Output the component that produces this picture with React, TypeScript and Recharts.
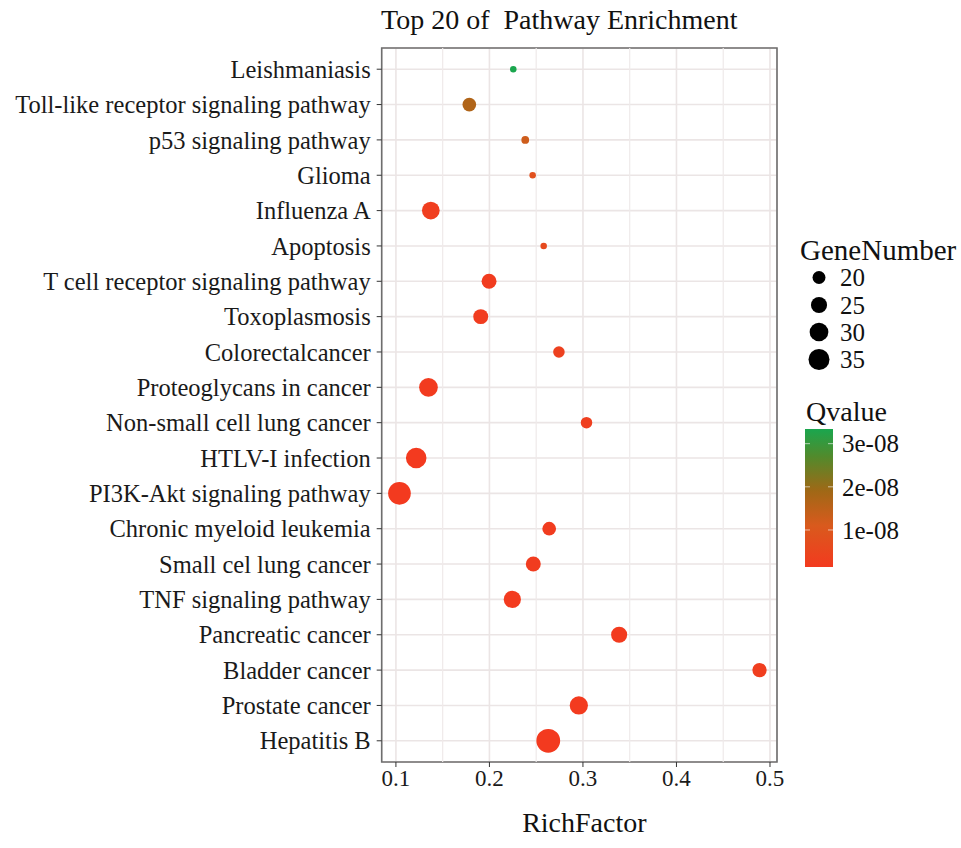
import React from 'react';
import { ScatterChart, Scatter, XAxis, YAxis, ZAxis, CartesianGrid, ReferenceLine, ReferenceArea, Cell, Label } from 'recharts';

// pathways listed top to bottom, as in the figure
const pathways = [
  'Leishmaniasis',
  'Toll-like receptor signaling pathway',
  'p53 signaling pathway',
  'Glioma',
  'Influenza A',
  'Apoptosis',
  'T cell receptor signaling pathway',
  'Toxoplasmosis',
  'Colorectalcancer',
  'Proteoglycans in cancer',
  'Non-small cell lung cancer',
  'HTLV-I infection',
  'PI3K-Akt signaling pathway',
  'Chronic myeloid leukemia',
  'Small cel lung cancer',
  'TNF signaling pathway',
  'Pancreatic cancer',
  'Bladder cancer',
  'Prostate cancer',
  'Hepatitis B',
];
const richFactor = [0.2255, 0.1785, 0.2383, 0.2462, 0.1373, 0.258, 0.1996, 0.1907, 0.2743, 0.1348, 0.3038, 0.1217, 0.1038, 0.2639, 0.2469, 0.2245, 0.3387, 0.4888, 0.2956, 0.2629];
const geneNumber = [13, 21, 14, 13, 28, 13, 23, 23, 18, 30, 18, 34, 39, 21, 23, 27, 25, 22, 29, 42];
const qValue = [3.34e-8, 1.68e-8, 1.25e-8, 0.8e-8, 0.25e-8, 0.62e-8, 0.2e-8, 0.2e-8, 0.35e-8, 0.18e-8, 0.3e-8, 0.15e-8, 0.15e-8, 0.2e-8, 0.2e-8, 0.16e-8, 0.17e-8, 0.25e-8, 0.16e-8, 0.15e-8];

const xTicks = [0.1, 0.2, 0.3, 0.4, 0.5];
const xMinor = [0.15, 0.25, 0.35, 0.45];
const sizeBreaks = [20, 25, 30, 35];
const qBreaks = [3e-8, 2e-8, 1e-8];

const X_DOMAIN = [0.0848, 0.5075];
const Y_DOMAIN = [0.4, 20.6];
const Q_MIN = 0.142e-8;
const Q_MAX = 3.34e-8;
const Z_DOMAIN = [13, 43];
const Z_RANGE = [33.2, 459.7];

const FONT = '"Liberation Serif", "Times New Roman", serif';

const stops: [number, string][] = [
  [0, '#f33a1f'],
  [0.3, '#d95a1d'],
  [0.55, '#a06816'],
  [0.8, '#528a2c'],
  [1, '#1aa64e'],
];

function hex(c: string) {
  return [1, 3, 5].map((i) => parseInt(c.slice(i, i + 2), 16));
}

function qColor(q: number) {
  const t = Math.max(0, Math.min(1, (q - Q_MIN) / (Q_MAX - Q_MIN)));
  for (let i = 1; i < stops.length; i++) {
    if (t <= stops[i][0]) {
      const [t0, c0] = stops[i - 1];
      const [t1, c1] = stops[i];
      const f = (t - t0) / (t1 - t0);
      const a = hex(c0), b = hex(c1);
      const rgb = a.map((v, k) => Math.round(v + (b[k] - v) * f));
      return `rgb(${rgb.join(',')})`;
    }
  }
  return stops[stops.length - 1][1];
}

// same area mapping as the ZAxis, for the legend dots
function dotRadius(n: number) {
  const area = Z_RANGE[0] + ((n - Z_DOMAIN[0]) / (Z_DOMAIN[1] - Z_DOMAIN[0])) * (Z_RANGE[1] - Z_RANGE[0]);
  return Math.sqrt(area / Math.PI);
}

const data = pathways.map((name, i) => ({
  name,
  x: richFactor[i],
  y: pathways.length - i,
  z: geneNumber[i],
  q: qValue[i],
}));

function LegendPanel() {
  const barTop = 429;
  const barBottom = 567;
  const qToY = (q: number) => barBottom - ((q - Q_MIN) / (Q_MAX - Q_MIN)) * (barBottom - barTop);
  const dotY = [277.5, 305, 332, 359.5];
  return (
    <svg width={961} height={848} style={{ position: 'absolute', left: 0, top: 0, pointerEvents: 'none' }}>
      <defs>
        <linearGradient id="qgrad" x1="0" y1="1" x2="0" y2="0">
          {stops.map(([t, c]) => (
            <stop key={t} offset={`${t * 100}%`} stopColor={c} />
          ))}
        </linearGradient>
      </defs>
      <text x={800} y={260} fontFamily={FONT} fontSize={29} fill="#111">GeneNumber</text>
      {sizeBreaks.map((n, i) => (
        <g key={n}>
          <circle cx={819} cy={dotY[i]} r={dotRadius(n)} fill="#000" />
          <text x={840} y={dotY[i]} dy="0.35em" fontFamily={FONT} fontSize={25} fill="#111">{n}</text>
        </g>
      ))}
      <text x={806} y={421} fontFamily={FONT} fontSize={28} fill="#111">Qvalue</text>
      <rect x={805} y={barTop} width={28} height={barBottom - barTop} fill="url(#qgrad)" />
      {qBreaks.map((q) => (
        <g key={q}>
          <line x1={805} x2={810} y1={qToY(q)} y2={qToY(q)} stroke="#fff" strokeOpacity={0.6} />
          <line x1={828} x2={833} y1={qToY(q)} y2={qToY(q)} stroke="#fff" strokeOpacity={0.6} />
          <text x={842} y={qToY(q)} dy="0.35em" fontFamily={FONT} fontSize={25} fill="#111">
            {`${Math.round(q * 1e8)}e-08`}
          </text>
        </g>
      ))}
    </svg>
  );
}

export default function App() {
  return (
    <div style={{ position: 'absolute', left: 0, top: 0, width: 961, height: 848, background: '#fff' }}>
      <div
        style={{
          position: 'absolute',
          left: 381,
          top: 5,
          fontFamily: FONT,
          fontSize: 28,
          color: '#111',
          whiteSpace: 'pre',
          lineHeight: '30px',
        }}
      >
        Top 20 of  Pathway Enrichment
      </div>
      <ScatterChart width={961} height={848} margin={{ top: 48, right: 184, bottom: 56, left: 0 }}>
        <CartesianGrid stroke="#ebe5e5" strokeWidth={1.6} />
        {xMinor.map((v) => (
          <ReferenceLine key={v} x={v} stroke="#efeaea" strokeWidth={1.2} />
        ))}
        <XAxis
          type="number"
          dataKey="x"
          domain={X_DOMAIN}
          ticks={xTicks}
          allowDataOverflow
          axisLine={false}
          tickSize={5}
          tickMargin={3}
          tickLine={{ stroke: '#333' }}
          tick={{ fill: '#1a1a1a', fontSize: 23, fontFamily: FONT }}
          height={30}
        >
          <Label value="RichFactor" position="bottom" offset={20} dx={5} style={{ fontFamily: FONT, fontSize: 28, fill: '#111' }} />
        </XAxis>
        <YAxis
          type="number"
          dataKey="y"
          domain={Y_DOMAIN}
          ticks={pathways.map((_, i) => i + 1)}
          tickFormatter={(v: number) => pathways[pathways.length - v]}
          interval={0}
          allowDataOverflow
          axisLine={false}
          width={381.7}
          tickSize={5}
          tickMargin={6}
          tickLine={{ stroke: '#333' }}
          tick={{ fill: '#1a1a1a', fontSize: 24.5, fontFamily: FONT }}
        />
        <ZAxis type="number" dataKey="z" domain={Z_DOMAIN} range={Z_RANGE} />
        <ReferenceArea
          x1={X_DOMAIN[0]}
          x2={X_DOMAIN[1]}
          y1={Y_DOMAIN[0]}
          y2={Y_DOMAIN[1]}
          fill="none"
          stroke="#6e6e6e"
          strokeWidth={1.6}
          ifOverflow="visible"
        />
        <Scatter data={data} isAnimationActive={false}>
          {data.map((d) => (
            <Cell key={d.name} fill={qColor(d.q)} />
          ))}
        </Scatter>
      </ScatterChart>
      <LegendPanel />
    </div>
  );
}
